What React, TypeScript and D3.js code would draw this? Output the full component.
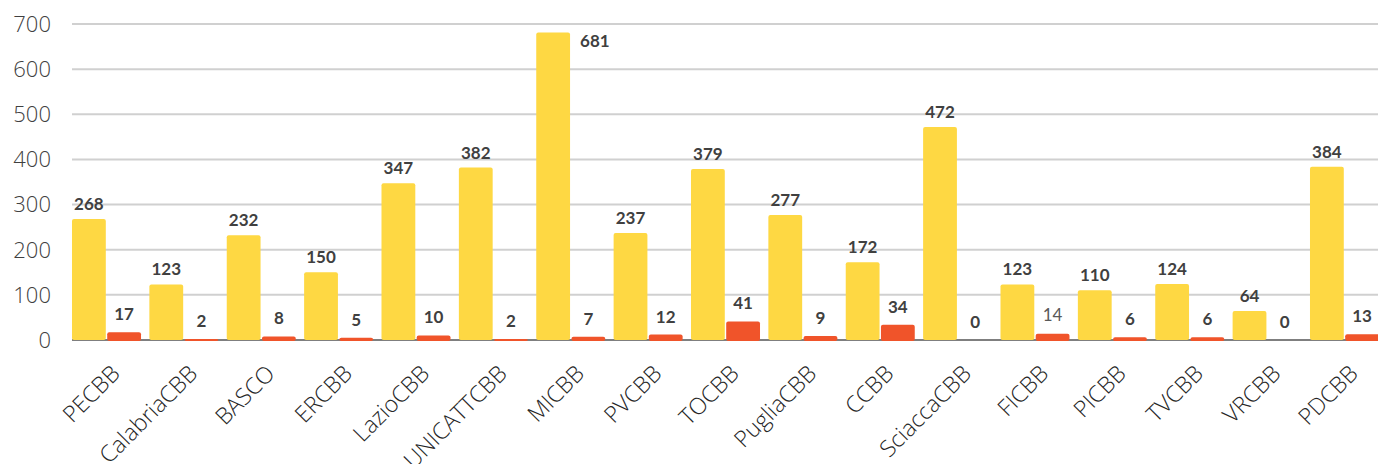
import React, { useEffect, useRef } from 'react';
import * as d3 from 'd3';

// chart data
const categories = [
  'PECBB', 'CalabriaCBB', 'BASCO', 'ERCBB', 'LazioCBB', 'UNICATTCBB', 'MICBB', 'PVCBB', 'TOCBB',
  'PugliaCBB', 'CCBB', 'SciaccaCBB', 'FICBB', 'PICBB', 'TVCBB', 'VRCBB', 'PDCBB',
];
const seriesA = [268, 123, 232, 150, 347, 382, 681, 237, 379, 277, 172, 472, 123, 110, 124, 64, 384];
const seriesB = [17, 2, 8, 5, 10, 2, 7, 12, 41, 9, 34, 0, 14, 6, 6, 0, 13];
const yTicks = [0, 100, 200, 300, 400, 500, 600, 700];
// the one label Excel drew in a plain (non-bold) style
const plainLabels = ['FICBB'];

const W = 1378;
const H = 464;

const App = () => {
  const svgRef = useRef<SVGSVGElement>(null);

  useEffect(() => {
    if (!svgRef.current) return;
    const svg = d3.select(svgRef.current);
    svg.selectAll('*').remove();

    const margin = { top: 24, left: 72, right: 0, bottom: 124 };
    const y = d3.scaleLinear().domain([0, 700]).range([H - margin.bottom, margin.top]);

    const x0 = d3.scaleBand<string>()
      .domain(categories)
      .range([margin.left, margin.left + 1307])
      .paddingInner(0.108)
      .paddingOuter(0);

    const x1 = d3.scaleBand<string>()
      .domain(['a', 'b'])
      .range([0, x0.bandwidth()])
      .paddingInner(0.04);

    // gridlines
    svg.append('g')
      .selectAll('line')
      .data(yTicks.filter(t => t > 0))
      .enter()
      .append('line')
      .attr('x1', margin.left)
      .attr('x2', W)
      .attr('y1', d => y(d))
      .attr('y2', d => y(d))
      .attr('stroke', '#d0d0d0')
      .attr('stroke-width', 2);

    // y tick labels
    svg.append('g')
      .selectAll('text')
      .data(yTicks)
      .enter()
      .append('text')
      .attr('x', 51)
      .attr('y', d => y(d))
      .attr('dy', '0.36em')
      .attr('text-anchor', 'end')
      .attr('font-family', '"Open Sans", sans-serif')
      .attr('font-weight', 300)
      .attr('font-size', 22)
      .attr('fill', '#404040')
      .text(d => d);

    // baseline (under the bars)
    svg.append('line')
      .attr('x1', margin.left)
      .attr('x2', W)
      .attr('y1', y(0))
      .attr('y2', y(0))
      .attr('stroke', '#7f7f7f')
      .attr('stroke-width', 2);

    const groups = svg.append('g')
      .selectAll('g')
      .data(categories.map((c, i) => ({ c, a: seriesA[i], b: seriesB[i] })))
      .enter()
      .append('g')
      .attr('transform', d => `translate(${x0(d.c)},0)`);

    // bars
    groups.append('rect')
      .attr('x', x1('a')!)
      .attr('width', x1.bandwidth())
      .attr('y', d => y(d.a))
      .attr('height', d => y(0) - y(d.a))
      .attr('rx', 2)
      .attr('fill', '#fed843');

    groups.filter(d => d.b > 0)
      .append('rect')
      .attr('x', x1('b')!)
      .attr('width', x1.bandwidth())
      .attr('y', d => y(d.b))
      .attr('height', d => y(0) - y(d.b) + 1)
      .attr('rx', 2)
      .attr('fill', '#f0542a');

    // data labels, yellow
    const outside = (v: number) => y(v) - 30 < margin.top;
    groups.append('text')
      .attr('x', d => (outside(d.a) ? x1('a')! + x1.bandwidth() + 10 : x1('a')! + x1.bandwidth() / 2))
      .attr('y', d => (outside(d.a) ? y(d.a) + 14 : y(d.a) - 9))
      .attr('text-anchor', d => (outside(d.a) ? 'start' : 'middle'))
      .attr('font-family', 'Lato, sans-serif')
      .attr('font-weight', 700)
      .attr('font-size', 17)
      .attr('fill', '#404040')
      .text(d => d.a);

    // data labels, red
    groups.append('text')
      .attr('x', x1('b')! + x1.bandwidth() / 2)
      .attr('y', d => y(d.b) - (plainLabels.includes(d.c) ? 13 : 12))
      .attr('text-anchor', 'middle')
      .attr('font-family', 'Lato, sans-serif')
      .attr('font-weight', d => (plainLabels.includes(d.c) ? 400 : 700))
      .attr('font-size', 17)
      .attr('fill', d => (plainLabels.includes(d.c) ? '#595959' : '#404040'))
      .text(d => d.b);

    // category labels
    svg.append('g')
      .selectAll('text')
      .data(categories)
      .enter()
      .append('text')
      .attr('transform', d => `translate(${x0(d)! + x0.bandwidth() / 2 + 15},${y(0) + 35}) rotate(-45)`)
      .attr('text-anchor', 'end')
      .attr('font-family', '"Open Sans", sans-serif')
      .attr('font-weight', 300)
      .attr('font-size', 23)
      .attr('fill', '#262626')
      .text(d => d);
  }, []);

  return (
    <div style={{ position: 'absolute', left: 0, top: 0, width: W, height: H, background: '#fff' }}>
      <svg ref={svgRef} width={W} height={H} style={{ display: 'block' }}></svg>
    </div>
  );
};

export default App;
